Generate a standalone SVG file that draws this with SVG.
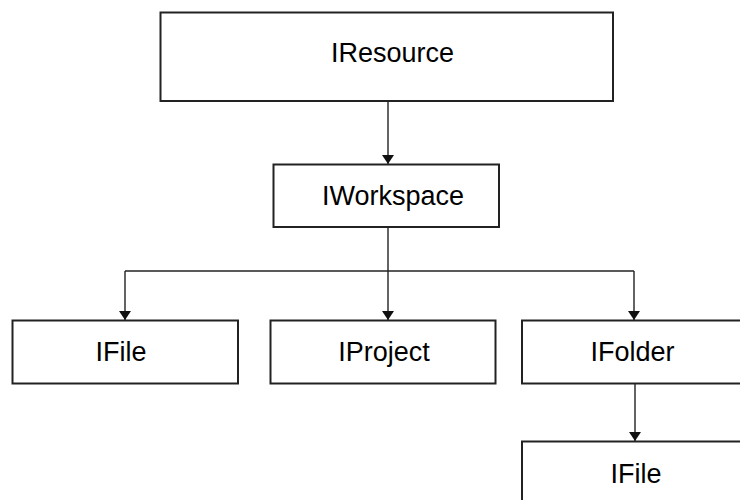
<svg xmlns="http://www.w3.org/2000/svg" width="740" height="500" viewBox="0 0 740 500">
  <style>
    .box { fill: #ffffff; stroke: #222222; stroke-width: 2; }
    .label { font-family: "Liberation Sans", Arial, sans-serif; font-size: 27px; fill: #000000; text-anchor: middle; }
    .wire { fill: none; stroke: #222222; stroke-width: 1.4; }
  </style>
  <defs>
    <marker id="arrow" viewBox="0 0 9 12" refX="9" refY="6" markerWidth="9" markerHeight="12" markerUnits="userSpaceOnUse" orient="auto">
      <path d="M0,0 L9,6 L0,12 Z" fill="#111111"/>
    </marker>
  </defs>
  <rect width="740" height="500" fill="#ffffff"/>

  <g id="connectors">
    <line class="wire" x1="388" y1="101" x2="388" y2="164" marker-end="url(#arrow)"/>
    <line class="wire" x1="388" y1="227" x2="388" y2="320" marker-end="url(#arrow)"/>
    <line class="wire" x1="125" y1="271" x2="634" y2="271"/>
    <path class="wire" d="M125,271 L125,320" marker-end="url(#arrow)"/>
    <path class="wire" d="M634,271 L634,320" marker-end="url(#arrow)"/>
    <line class="wire" x1="635" y1="384" x2="635" y2="441" marker-end="url(#arrow)"/>
  </g>

  <g id="iresource">
    <rect class="box" x="160.5" y="12.5" width="452.5" height="88.5"/>
    <text class="label" x="392.5" y="62.3">IResource</text>
  </g>

  <g id="iworkspace">
    <rect class="box" x="273.5" y="164.5" width="225.5" height="62.5"/>
    <text class="label" x="393" y="205">IWorkspace</text>
  </g>

  <g id="ifile">
    <rect class="box" x="12.5" y="320.5" width="225.5" height="63"/>
    <text class="label" x="121" y="361">IFile</text>
  </g>

  <g id="iproject">
    <rect class="box" x="270.5" y="320.5" width="225" height="63"/>
    <text class="label" x="384" y="361">IProject</text>
  </g>

  <g id="ifolder">
    <rect class="box" x="522" y="320.5" width="230" height="63"/>
    <text class="label" x="632.5" y="361">IFolder</text>
  </g>

  <g id="ifolder-file">
    <rect class="box" x="522" y="441.5" width="230" height="70"/>
    <text class="label" x="636" y="482.7">IFile</text>
  </g>
</svg>
